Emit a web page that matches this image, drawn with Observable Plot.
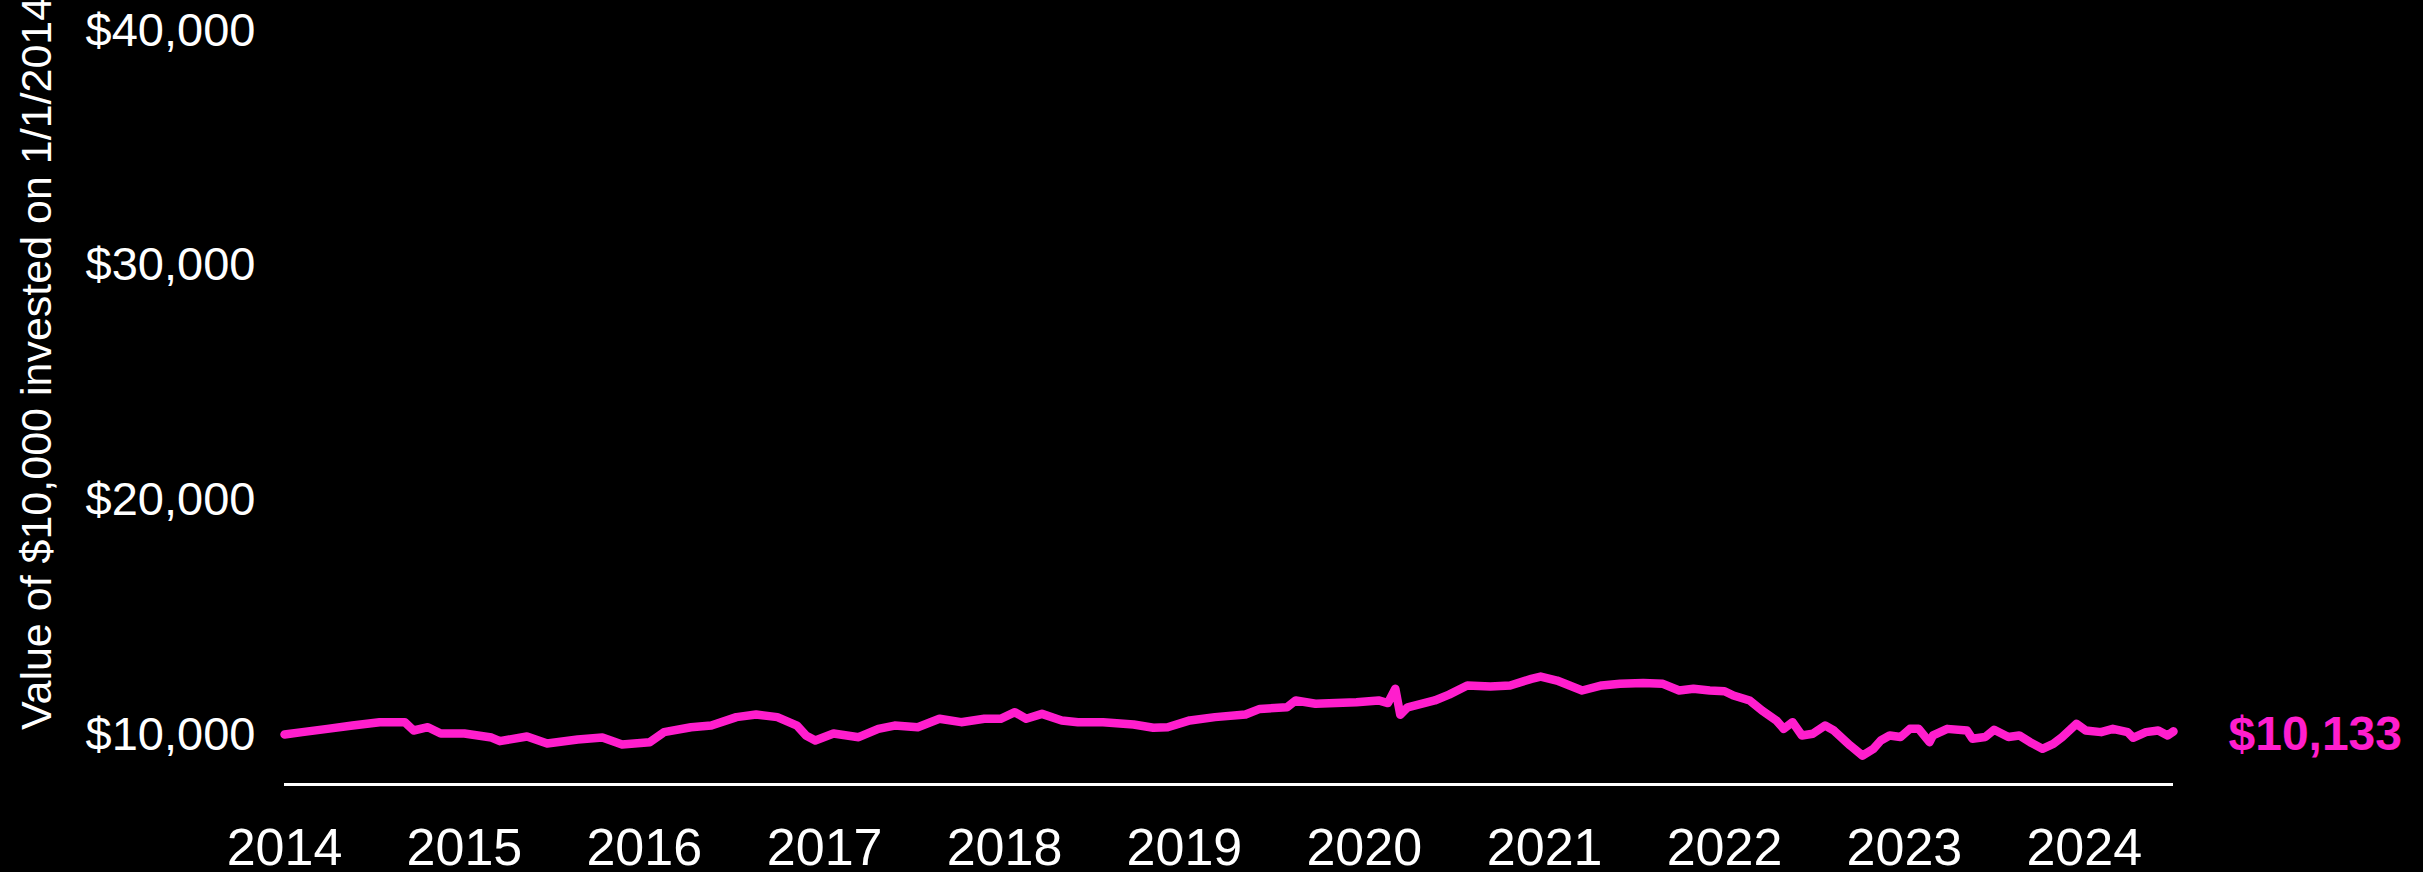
<!DOCTYPE html>
<html>
<head>
<meta charset="utf-8">
<script src="https://cdn.jsdelivr.net/npm/d3@7"></script>
<script src="https://cdn.jsdelivr.net/npm/@observablehq/plot@0.6"></script>
<style>
  html, body { margin: 0; padding: 0; background: #000; }
  #chart { width: 2423px; height: 872px; }
</style>
</head>
<body>
<div id="chart"></div>
<script>
// Value of $10,000 invested on 1/1/2014
const dates = [
  "2014-01-01","2014-02-06","2014-03-29","2014-05-19","2014-07-13","2014-09-02","2014-09-20","2014-10-19","2014-11-14",
  "2015-01-01","2015-02-25","2015-03-14","2015-05-08","2015-06-18","2015-08-19","2015-10-08","2015-11-17",
  "2016-01-12","2016-02-10","2016-04-05","2016-05-16","2016-07-06","2016-08-15","2016-09-27","2016-11-06","2016-11-24","2016-12-13",
  "2017-01-19","2017-03-11","2017-04-20","2017-05-23","2017-07-09","2017-08-22","2017-10-05","2017-11-21","2017-12-24",
  "2018-01-22","2018-02-14","2018-03-18","2018-04-27","2018-05-30","2018-07-20","2018-09-20","2018-10-30","2018-11-28",
  "2019-01-12","2019-03-04","2019-05-05","2019-06-03","2019-07-28","2019-08-15","2019-09-24","2019-12-16",
  "2020-01-30","2020-02-18","2020-03-04","2020-03-14","2020-03-29","2020-05-23","2020-06-21","2020-07-28","2020-09-13","2020-10-23","2020-12-05","2020-12-24",
  "2021-01-26","2021-03-18","2021-04-27","2021-06-03","2021-07-20","2021-08-29","2021-10-01","2021-10-30","2021-12-02",
  "2022-01-01","2022-01-19","2022-02-21","2022-03-18","2022-04-16","2022-05-01","2022-05-19","2022-06-07","2022-06-29","2022-07-24","2022-08-11","2022-09-13","2022-10-08","2022-10-30","2022-11-14","2022-12-02","2022-12-24",
  "2023-01-12","2023-01-30","2023-02-21","2023-02-28","2023-03-29","2023-05-08","2023-05-19","2023-06-14","2023-07-02","2023-07-31","2023-08-22","2023-09-13","2023-10-08","2023-10-30","2023-11-17","2023-12-16",
  "2024-01-04","2024-02-04","2024-02-28","2024-03-29","2024-04-09","2024-05-05","2024-05-30","2024-06-18","2024-06-30"
];
const values = [
  10000,10100,10240,10380,10525,10525,10170,10310,10040,
  10040,9870,9715,9915,9615,9787,9870,9575,
  9673,10100,10310,10380,10740,10850,10740,10380,9960,9745,
  10040,9885,10240,10380,10310,10670,10525,10670,10670,
  10950,10670,10880,10600,10525,10525,10425,10285,10310,
  10600,10740,10850,11090,11160,11450,11310,11375,
  11450,11340,11950,10840,11160,11450,11700,12090,12050,12090,12370,12470,
  12300,11875,12090,12160,12190,12160,11875,11950,11875,
  11845,11660,11450,11020,10600,10240,10525,9960,10030,10380,10170,9530,9100,9390,9745,9960,9890,
  10240,10240,9673,9960,10240,10170,9817,9890,10200,9890,9960,9673,9390,9600,9890,10455,
  10170,10100,10240,10100,9860,10100,10170,9960,10133
];
const yTicks = [10000, 20000, 30000, 40000];
const xTickYears = ["2014","2015","2016","2017","2018","2019","2020","2021","2022","2023","2024"];
const endLabel = "$10,133";
const yTitle = "Value of $10,000 invested on 1/1/2014";

const data = dates.map((d, i) => ({date: new Date(d + "T00:00:00Z"), value: values[i]}));
const xTicks = xTickYears.map(y => new Date(y + "-01-01T00:00:00Z"));
const last = data[data.length - 1];

const MAGENTA = "#ff1ecd";
const FONT = "'Liberation Sans', Arial, Helvetica, sans-serif";

const plot = Plot.plot({
  width: 2423,
  height: 872,
  marginLeft: 284,
  marginRight: 250,
  marginTop: 30,
  marginBottom: 88,
  style: {background: "#000", color: "#fff", fontFamily: FONT, overflow: "visible"},
  x: {type: "utc", domain: [new Date("2014-01-01T00:00:00Z"), new Date("2024-06-30T00:00:00Z")]},
  y: {domain: [7869, 40000]},
  marks: [
    Plot.axisY({ticks: yTicks, tickSize: 0, tickPadding: 29, fontSize: 47, fill: "#fff",
      tickFormat: d => "$" + d3.format(",")(d), label: null}),
    Plot.axisX({ticks: xTicks, tickSize: 0, tickPadding: 44, fontSize: 52, fill: "#fff",
      tickFormat: d3.utcFormat("%Y"), label: null}),
    Plot.ruleY([7869], {stroke: "#fff", strokeWidth: 3}),
    Plot.line(data, {x: "date", y: "value", stroke: MAGENTA, strokeWidth: 8.5,
      strokeLinejoin: "round", strokeLinecap: "round"}),
    Plot.text([last], {x: "date", y: "value", text: () => endLabel, dx: 55, dy: 3,
      textAnchor: "start", fill: MAGENTA, fontSize: 48, fontWeight: "bold"})
  ]
});

d3.select(plot).append("text")
  .attr("transform", "translate(51,730) rotate(-90)")
  .attr("text-anchor", "start")
  .attr("fill", "#fff")
  .attr("font-size", 43)
  .attr("font-family", FONT)
  .text(yTitle);

document.getElementById("chart").appendChild(plot);
</script>
</body>
</html>
